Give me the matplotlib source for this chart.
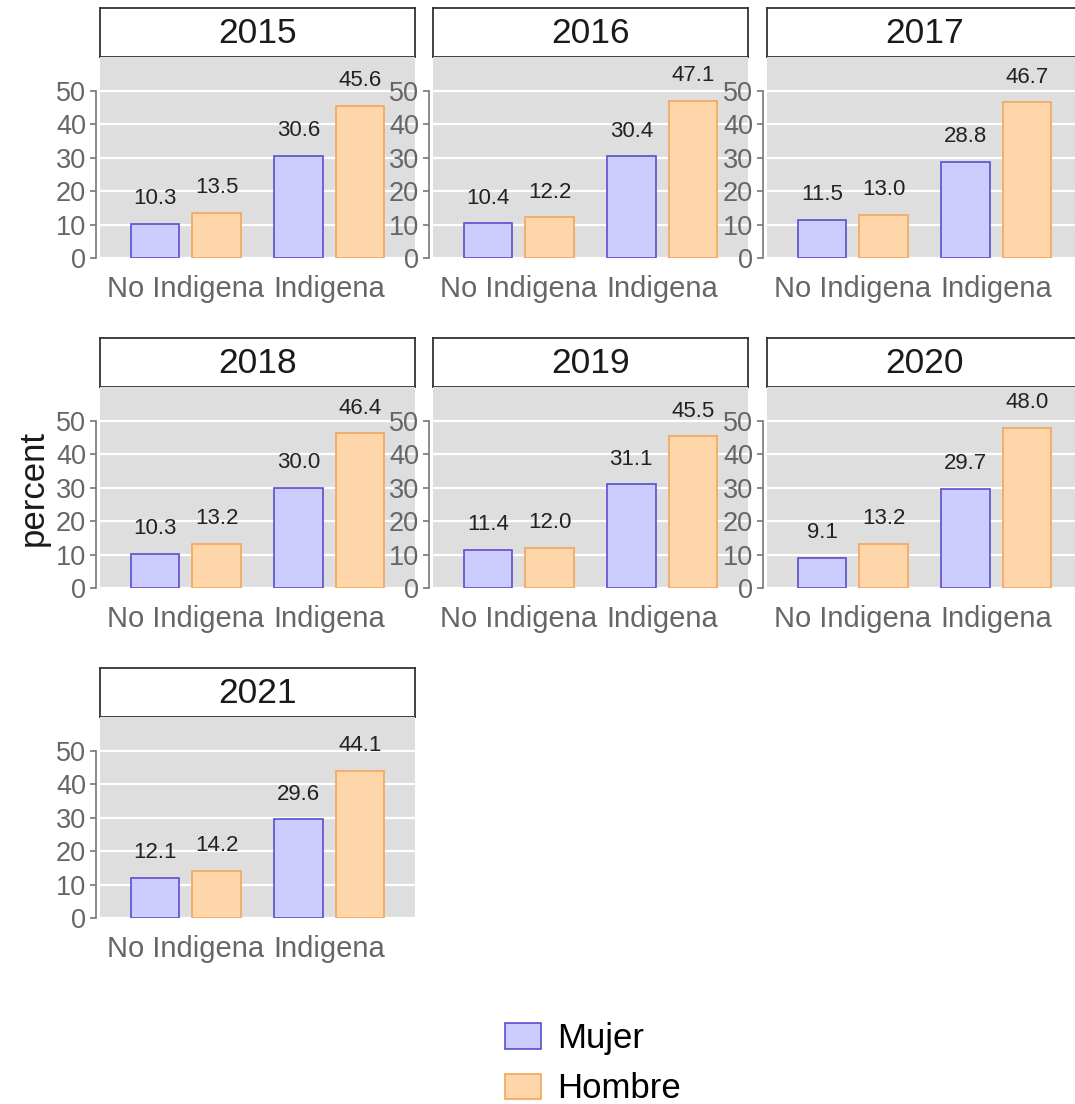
import matplotlib.pyplot as plt
from matplotlib.patches import Patch

plt.rcParams['font.family'] = ['Liberation Sans', 'DejaVu Sans']

years = ['2015', '2016', '2017', '2018', '2019', '2020', '2021']
groups = ['No Indigena', 'Indigena']
mujer = [[10.3, 30.6], [10.4, 30.4], [11.5, 28.8], [10.3, 30.0],
         [11.4, 31.1], [9.1, 29.7], [12.1, 29.6]]
hombre = [[13.5, 45.6], [12.2, 47.1], [13.0, 46.7], [13.2, 46.4],
          [12.0, 45.5], [13.2, 48.0], [14.2, 44.1]]

W, H = 1075, 1104
fig = plt.figure(figsize=(W / 100, H / 100), dpi=100)

mujer_fill, mujer_edge = '#CCCCFF', '#5B4FD0'
hombre_fill, hombre_edge = '#FFD6AA', '#F2A65E'
panel_bg = '#DEDEDE'
gray = '#666666'

col_left = [100, 433, 767]
row_top = [8, 338, 668]
pw, strip_h, ph = 315, 49, 201
off, bw = 0.215, 0.34

for k, yr in enumerate(years):
    r, c = divmod(k, 3)
    x0 = col_left[c]
    st = row_top[r]
    # strip
    sax = fig.add_axes([x0 / W, 1 - (st + strip_h) / H, pw / W, strip_h / H])
    sax.set_xticks([])
    sax.set_yticks([])
    for s in sax.spines.values():
        s.set_color('#333333')
        s.set_linewidth(1.3)
    sax.text(0.5, 0.47, yr, ha='center', va='center', fontsize=25.5, color='#1a1a1a',
             transform=sax.transAxes)
    # panel
    ax = fig.add_axes([x0 / W, 1 - (st + strip_h + ph) / H, pw / W, ph / H])
    ax.set_facecolor(panel_bg)
    ax.set_xlim(0.4, 2.6)
    ax.set_ylim(0, 60.2)
    ax.set_axisbelow(True)
    ax.yaxis.grid(True, color='white', linewidth=1.6)
    pos = [1, 2]
    xm = [p - off for p in pos]
    xh = [p + off for p in pos]
    ax.bar(xm, mujer[k], width=bw, color=mujer_fill, edgecolor=mujer_edge, linewidth=1.2)
    ax.bar(xh, hombre[k], width=bw, color=hombre_fill, edgecolor=hombre_edge, linewidth=1.2)
    for xs, vals in ((xm, mujer[k]), (xh, hombre[k])):
        for xv, v in zip(xs, vals):
            ax.annotate(f'{v:.1f}', (xv, v), xytext=(0, 14), textcoords='offset points',
                        ha='center', va='baseline', fontsize=16, color='#222222')
    ax.set_yticks([0, 10, 20, 30, 40, 50])
    ax.set_xticks(pos)
    ax.set_xticklabels(groups)
    ax.tick_params(axis='x', length=0, pad=12, labelsize=21, labelcolor=gray)
    ax.tick_params(axis='y', length=4, width=1.2, color='#777777', pad=3,
                   labelsize=19.5, labelcolor=gray)
    for s in ['top', 'right', 'bottom']:
        ax.spines[s].set_visible(False)
    ax.spines['left'].set_position(('outward', 3))
    ax.spines['left'].set_bounds(0, 50)
    ax.spines['left'].set_color('#777777')
    ax.spines['left'].set_linewidth(1.2)

fig.text(33 / W, 1 - 488 / H, 'percent', rotation=90, ha='center', va='center',
         fontsize=25, color='#1a1a1a')

handles = [Patch(facecolor=mujer_fill, edgecolor=mujer_edge, linewidth=1.2),
           Patch(facecolor=hombre_fill, edgecolor=hombre_edge, linewidth=1.2)]
fig.legend(handles, ['Mujer', 'Hombre'], loc='upper left',
           bbox_to_anchor=(505 / W, 1 - 1022 / H), frameon=False, fontsize=25,
           borderpad=0, borderaxespad=0,
           handlelength=1.05, handleheight=0.75, handletextpad=0.45, labelspacing=0.5)

fig.savefig('out.png', dpi=100)
